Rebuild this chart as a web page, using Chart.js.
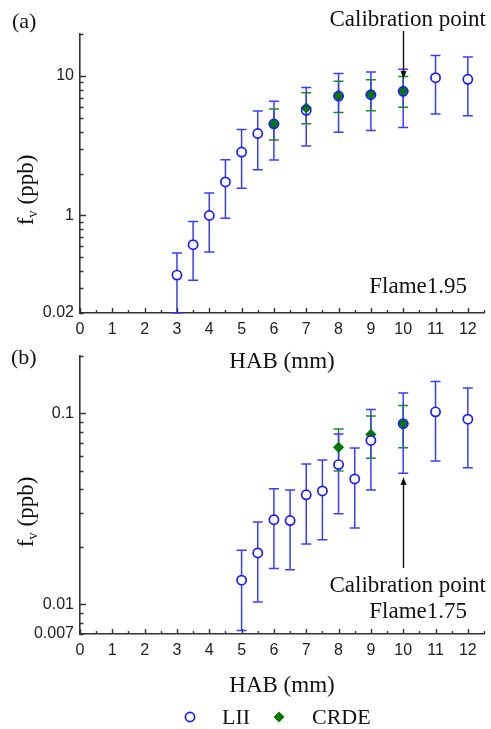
<!DOCTYPE html>
<html><head><meta charset="utf-8">
<script src="https://cdn.jsdelivr.net/npm/chart.js@4.4.1/dist/chart.umd.min.js"></script>
<style>
html,body{margin:0;padding:0;background:#fff;overflow:hidden;width:491px;height:729px;}
#ca{position:absolute;left:0;top:0;}
#cb{position:absolute;left:0;top:330px;}
</style></head><body>
<canvas id="ca" width="491" height="380"></canvas>
<canvas id="cb" width="491" height="399"></canvas>
<script>
// ---------- Panel (a): Flame 1.95 ----------
const habA_LII  = [3, 3.5, 4, 4.5, 5, 5.5, 6, 7, 8, 9, 10, 11, 12];
const liiA      = [0.374, 0.618, 1.0, 1.74, 2.85, 3.87, 4.54, 5.67, 7.18, 7.34, 7.77, 9.73, 9.47];
const liiA_lo   = [0.2, 0.344, 0.548, 0.957, 1.57, 2.13, 2.5, 3.15, 3.95, 4.07, 4.27, 5.33, 5.18];
const liiA_hi   = [0.539, 0.905, 1.45, 2.51, 4.13, 5.6, 6.6, 8.28, 10.4, 10.7, 11.2, 14.0, 13.7];
const habA_CRDE = [6, 7, 8, 9, 10];
const crdeA     = [4.54, 5.91, 7.2, 7.37, 7.8];
const crdeA_lo  = [3.47, 4.54, 5.48, 5.63, 5.96];
const crdeA_hi  = [5.79, 7.59, 9.16, 9.41, 9.91];
const yTickValsA = [0.2, 1, 10];
const yTickTextA = ['0.02', '1', '10'];

// ---------- Panel (b): Flame 1.75 ----------
const habB_LII  = [5, 5.5, 6, 6.5, 7, 7.5, 8, 8.5, 9, 10, 11, 12];
const liiB      = [0.0134, 0.0186, 0.0278, 0.0275, 0.0375, 0.0393, 0.054, 0.0454, 0.0723, 0.0884, 0.102, 0.0934];
const liiB_lo   = [0.00731, 0.0103, 0.0154, 0.0152, 0.0207, 0.0218, 0.0298, 0.0251, 0.0398, 0.0486, 0.0564, 0.052];
const liiB_hi   = [0.0192, 0.027, 0.0403, 0.0398, 0.0544, 0.0571, 0.078, 0.0659, 0.105, 0.128, 0.147, 0.136];
const habB_CRDE = [8, 9, 10];
const crdeB     = [0.0665, 0.0777, 0.0884];
const crdeB_lo  = [0.05, 0.0582, 0.0662];
const crdeB_hi  = [0.0829, 0.0969, 0.110];
const yTickValsB = [0.007, 0.01, 0.1];
const yTickTextB = ['0.007', '0.01', '0.1'];

const SERIF = "'Liberation Serif','Times New Roman',serif";
const SANS = "'Liberation Sans',Arial,sans-serif";
const BLUE = '#1a1aff', BLUE_ERR = '#3c3cff', GREEN = '#007800', GREEN_ERR = '#1e8c1e';
const INK = '#111';

const errPlugin = {
  id: 'errbars',
  beforeDatasetsDraw(chart) {
    const ctx = chart.ctx, a = chart.chartArea, ys = chart.scales.y;
    ctx.save();
    ctx.beginPath(); ctx.rect(a.left, a.top - 1, a.right - a.left, a.bottom - a.top + 2); ctx.clip();
    const draw = (di, color, vert, caps) => {
      const ds = chart.data.datasets[di], meta = chart.getDatasetMeta(di);
      ctx.strokeStyle = color; ctx.lineWidth = 1.5; ctx.beginPath();
      meta.data.forEach((pt, i) => {
        const x = pt.x, yl = ys.getPixelForValue(ds.errLo[i]), yh = ys.getPixelForValue(ds.errHi[i]);
        if (vert) { ctx.moveTo(x, yl); ctx.lineTo(x, yh); }
        if (caps) { ctx.moveTo(x - 5, yl); ctx.lineTo(x + 5, yl); ctx.moveTo(x - 5, yh); ctx.lineTo(x + 5, yh); }
      });
      ctx.stroke();
    };
    draw(1, GREEN_ERR, true, false);
    draw(0, BLUE_ERR, true, true);
    draw(1, GREEN_ERR, false, true);
    ctx.restore();
  }
};

const tickPlugin = {
  id: 'inticks',
  afterDraw(chart) {
    const ctx = chart.ctx, a = chart.chartArea, xs = chart.scales.x, ys = chart.scales.y;
    ctx.save(); ctx.strokeStyle = '#333'; ctx.lineWidth = 1.4; ctx.beginPath();
    xs.ticks.forEach(t => {
      const px = Math.round(xs.getPixelForValue(t.value)) + 0.5;
      const L = Math.abs(t.value - Math.round(t.value)) < 1e-6 ? 5 : 3;
      ctx.moveTo(px, a.bottom); ctx.lineTo(px, a.bottom - L);
    });
    ys.ticks.forEach(t => {
      const py = Math.round(ys.getPixelForValue(t.value)) + 0.5;
      const lg = Math.log10(t.value);
      const L = Math.abs(lg - Math.round(lg)) < 1e-6 ? 6 : 3.5;
      ctx.moveTo(a.left, py); ctx.lineTo(a.left + L, py);
    });
    ctx.stroke(); ctx.restore();
  }
};

function makeDeco(d) {
  return {
    id: 'deco',
    afterDraw(chart) {
      const ctx = chart.ctx, xs = chart.scales.x;
      ctx.save();
      ctx.fillStyle = INK; ctx.strokeStyle = INK;
      d.texts.forEach(t => {
        ctx.font = t.size + 'px ' + SERIF; ctx.textAlign = t.align; ctx.textBaseline = 'alphabetic';
        ctx.fillText(t.text, t.x, t.y);
      });
      // arrow
      const ax = Math.round(xs.getPixelForValue(d.arrow.at)) + 0.5;
      const y0 = d.arrow.from, y1 = d.arrow.to, dir = y1 > y0 ? 1 : -1;
      ctx.lineWidth = 1.4; ctx.beginPath(); ctx.moveTo(ax, y0); ctx.lineTo(ax, y1 - dir * 6); ctx.stroke();
      ctx.beginPath(); ctx.moveTo(ax, y1); ctx.lineTo(ax - 3, y1 - dir * 8); ctx.lineTo(ax + 3, y1 - dir * 8); ctx.closePath(); ctx.fill();
      // y title  f_v (ppb)
      ctx.save();
      ctx.translate(33, d.ytitleY); ctx.rotate(-Math.PI / 2);
      ctx.textAlign = 'left'; ctx.textBaseline = 'alphabetic';
      const big = '23px ' + SERIF, small = '15px ' + SERIF;
      ctx.font = big; const wf = ctx.measureText('f').width, wr = ctx.measureText(' (ppb)').width;
      ctx.font = small; const wv = ctx.measureText('v').width;
      let x0 = -(wf + wv + wr) / 2;
      ctx.font = big; ctx.fillText('f', x0, 0); x0 += wf;
      ctx.font = small; ctx.fillText('v', x0, 4); x0 += wv;
      ctx.font = big; ctx.fillText(' (ppb)', x0, 0);
      ctx.restore();
      // legend
      if (d.legend) {
        const L = d.legend;
        ctx.lineWidth = 1.7; ctx.strokeStyle = BLUE; ctx.fillStyle = '#fff';
        ctx.beginPath(); ctx.arc(L.cx1, L.cy, 4.6, 0, Math.PI * 2); ctx.fill(); ctx.stroke();
        ctx.fillStyle = GREEN;
        ctx.beginPath(); ctx.moveTo(L.cx2 - 5.5, L.cy); ctx.lineTo(L.cx2, L.cy - 5.5); ctx.lineTo(L.cx2 + 5.5, L.cy); ctx.lineTo(L.cx2, L.cy + 5.5); ctx.closePath(); ctx.fill();
        ctx.fillStyle = INK; ctx.font = '22px ' + SERIF; ctx.textAlign = 'left';
        ctx.fillText('LII', L.tx1, L.base); ctx.fillText('CRDE', L.tx2, L.base);
      }
      ctx.restore();
    }
  };
}

function makeChart(id, p) {
  const overlap = p.liiX.map((x, i) => {
    const j = p.crdeX.indexOf(x);
    return j >= 0 && Math.abs(Math.log10(p.crde[j] / p.lii[i])) < 0.025;
  });
  return new Chart(document.getElementById(id), {
    type: 'scatter',
    data: { datasets: [
      { label: 'LII', data: p.liiX.map((x, i) => ({ x, y: p.lii[i] })), errLo: p.liiLo, errHi: p.liiHi,
        pointStyle: 'circle', pointRadius: 4.6, pointHoverRadius: 4.6, borderWidth: 1.7, borderColor: BLUE,
        backgroundColor: c => overlap[c.dataIndex] ? 'rgba(255,255,255,0)' : '#ffffff' },
      { label: 'CRDE', data: p.crdeX.map((x, i) => ({ x, y: p.crde[i] })), errLo: p.crdeLo, errHi: p.crdeHi,
        pointStyle: 'rectRot', pointRadius: 5.6, pointHoverRadius: 5.6, borderWidth: 0, borderColor: GREEN, backgroundColor: GREEN }
    ] },
    options: {
      responsive: false, animation: false, devicePixelRatio: 1, events: [],
      layout: { padding: { left: 0, right: 4, top: p.top, bottom: 0 } },
      plugins: { legend: { display: false }, tooltip: { enabled: false } },
      scales: {
        x: {
          type: 'linear', min: 0, max: 12.5,
          afterFit: s => { s.height = p.xH; },
          ticks: { stepSize: 0.5, autoSkip: false, maxRotation: 0, padding: 7, color: '#222',
            font: { family: SANS, size: 16 },
            callback: v => Math.abs(v - Math.round(v)) < 1e-6 ? String(Math.round(v)) : '' },
          grid: { display: false, drawTicks: false },
          border: { display: true, color: '#333', width: 1.6 },
          title: { display: true, text: 'HAB (mm)', color: INK, font: { family: SERIF, size: 23, lineHeight: 1 },
            padding: { top: 0, bottom: p.titlePad } }
        },
        y: {
          type: 'logarithmic', min: p.ymin, max: p.ymax,
          afterFit: s => { s.width = 80; },
          afterBuildTicks: s => {
            s.ticks = s.ticks.filter(t => {
              const m = t.value / Math.pow(10, Math.floor(Math.log10(t.value) + 1e-9));
              return Math.abs(m - Math.round(m)) < 1e-6;
            });
          },
          ticks: { autoSkip: false, padding: 6, color: '#222', font: { family: SANS, size: 16 },
            callback: v => { const k = p.yVals.findIndex(t => Math.abs(t - v) / t < 1e-6); return k >= 0 ? p.yText[k] : ''; } },
          grid: { display: false, drawTicks: false },
          border: { display: true, color: '#333', width: 1.6 }
        }
      }
    },
    plugins: [errPlugin, tickPlugin, makeDeco(p.deco)]
  });
}

makeChart('ca', {
  liiX: habA_LII, lii: liiA, liiLo: liiA_lo, liiHi: liiA_hi,
  crdeX: habA_CRDE, crde: crdeA, crdeLo: crdeA_lo, crdeHi: crdeA_hi,
  ymin: 0.2, ymax: 20, yVals: yTickValsA, yText: yTickTextA,
  top: 34, xH: 67, titlePad: 6.5,
  deco: {
    texts: [
      { text: '(a)', x: 12, y: 28, size: 22, align: 'left' },
      { text: 'Calibration point', x: 486, y: 26, size: 23, align: 'right' },
      { text: 'Flame1.95', x: 467, y: 293, size: 23, align: 'right' }
    ],
    arrow: { at: 10, from: 31, to: 79 },
    ytitleY: 190
  }
});

makeChart('cb', {
  liiX: habB_LII, lii: liiB, liiLo: liiB_lo, liiHi: liiB_hi,
  crdeX: habB_CRDE, crde: crdeB, crdeLo: crdeB_lo, crdeHi: crdeB_hi,
  ymin: 0.007, ymax: 0.2, yVals: yTickValsB, yText: yTickTextB,
  top: 26, xH: 95, titlePad: 31.5,
  deco: {
    texts: [
      { text: '(b)', x: 11, y: 34, size: 22, align: 'left' },
      { text: 'Calibration point', x: 486, y: 262, size: 23, align: 'right' },
      { text: 'Flame1.75', x: 467, y: 288, size: 23, align: 'right' }
    ],
    arrow: { at: 10, from: 238, to: 147 },
    ytitleY: 182,
    legend: { cy: 387, cx1: 190, cx2: 279, tx1: 222, tx2: 312, base: 394 }
  }
});
</script>
</body></html>
